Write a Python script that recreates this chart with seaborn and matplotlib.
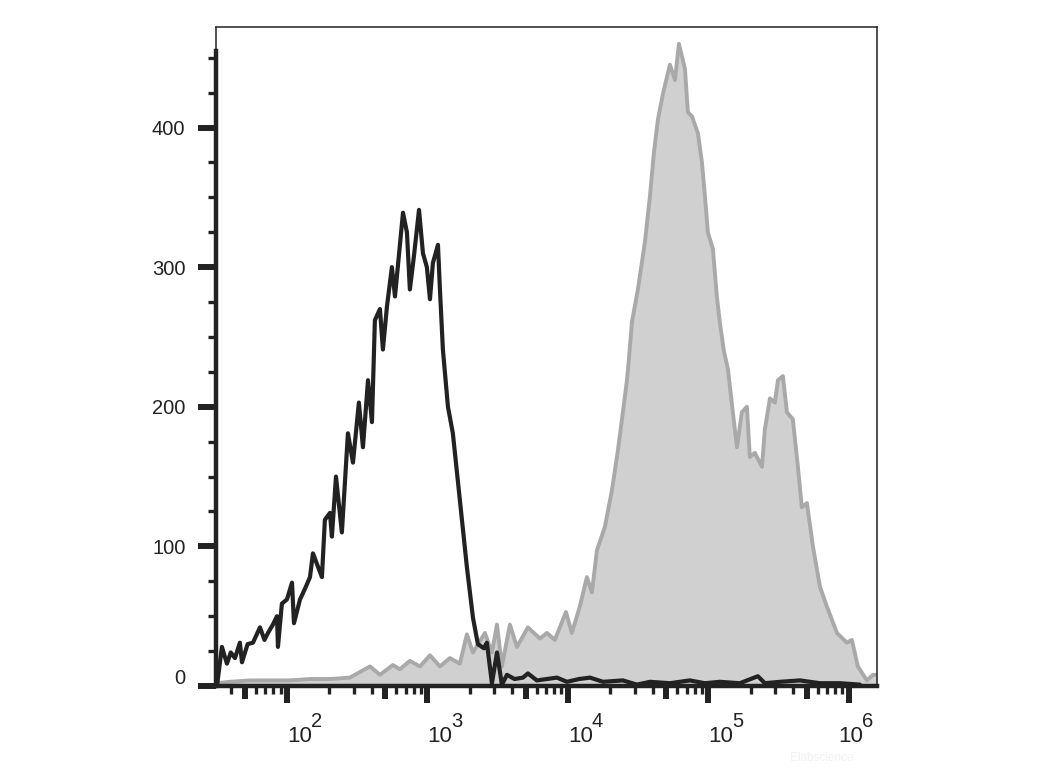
import numpy as np
import pandas as pd
import matplotlib
matplotlib.use("Agg")
import matplotlib.pyplot as plt
import matplotlib.transforms as mtransforms
import seaborn as sns
from matplotlib.ticker import FixedLocator, NullFormatter

# ---- data (log10 fluorescence intensity, event count) ----
iso_log10 = [1.502, 1.537, 1.573, 1.600, 1.630, 1.665, 1.680, 1.720, 1.758, 1.808, 1.840, 1.865,
             1.900, 1.929, 1.936, 1.964, 2.000, 2.036, 2.050, 2.093, 2.130, 2.164, 2.185, 2.249,
             2.270, 2.306, 2.320, 2.349, 2.391, 2.434, 2.470, 2.512, 2.541, 2.577, 2.605, 2.626,
             2.662, 2.683, 2.712, 2.747, 2.769, 2.826, 2.854, 2.875, 2.904, 2.940, 2.968, 2.996,
             3.018, 3.039, 3.075, 3.089, 3.110, 3.146, 3.181, 3.231, 3.281, 3.324, 3.359, 3.402,
             3.423, 3.459, 3.495, 3.530, 3.566, 3.620, 3.680, 3.715, 3.779, 3.850, 3.922, 3.993,
             4.080, 4.157, 4.250, 4.391, 4.491, 4.584, 4.726, 4.868, 4.975, 5.082, 5.224, 5.352,
             5.402, 5.509, 5.651, 5.794, 5.936, 6.078]
iso_count = [0, 28, 16, 24, 20, 31, 17, 30, 31, 42, 33, 38,
             44, 50, 28, 59, 62, 74, 45, 62, 70, 78, 95, 78,
             119, 124, 107, 150, 110, 181, 160, 203, 171, 219, 189, 262,
             270, 241, 272, 300, 279, 339, 325, 284, 308, 341, 310, 300,
             277, 303, 316, 284, 241, 200, 181, 133, 85, 49, 30, 27,
             31, 2, 24, 1, 8, 5, 6, 9, 4, 5, 6, 3,
             5, 6, 3, 4, 1, 3, 2, 4, 2, 3, 2, 7,
             2, 3, 4, 2, 2, 1]

stain_log10 = [1.495, 1.594, 1.737, 1.879, 2.021, 2.164, 2.306, 2.448, 2.555, 2.591, 2.662, 2.754,
               2.804, 2.875, 2.947, 3.018, 3.089, 3.160, 3.231, 3.281, 3.324, 3.409, 3.459, 3.495,
               3.530, 3.587, 3.637, 3.715, 3.801, 3.851, 3.907, 3.986, 4.028, 4.085, 4.135, 4.171,
               4.206, 4.263, 4.313, 4.356, 4.391, 4.420, 4.434, 4.456, 4.498, 4.548, 4.584, 4.612,
               4.641, 4.676, 4.726, 4.762, 4.790, 4.833, 4.854, 4.883, 4.925, 4.954, 4.975, 4.996,
               5.032, 5.060, 5.082, 5.110, 5.139, 5.174, 5.203, 5.238, 5.274, 5.295, 5.331, 5.381,
               5.402, 5.438, 5.473, 5.495, 5.530, 5.559, 5.601, 5.637, 5.665, 5.701, 5.744, 5.794,
               5.843, 5.915, 5.986, 6.021, 6.064, 6.128, 6.171, 6.199]
stain_count = [2, 3, 4, 4, 4, 5, 5, 6, 12, 14, 8, 15,
               12, 18, 14, 22, 14, 20, 16, 37, 24, 38, 24, 44,
               14, 44, 28, 42, 34, 38, 33, 53, 38, 57, 78, 67,
               97, 114, 140, 169, 196, 219, 234, 261, 284, 318, 351, 382,
               406, 424, 445, 434, 460, 442, 411, 408, 396, 375, 351, 325,
               313, 279, 260, 240, 227, 196, 171, 196, 200, 164, 167, 157,
               184, 206, 203, 219, 222, 196, 191, 157, 128, 131, 100, 71,
               57, 38, 31, 33, 14, 4, 8, 8]

y_ticks = [0, 100, 200, 300, 400]
x_decades = [2, 3, 4, 5, 6]

iso = pd.DataFrame({"x": 10.0 ** np.array(iso_log10), "y": iso_count})
stain = pd.DataFrame({"x": 10.0 ** np.array(stain_log10), "y": stain_count})

# ---- style ----
sns.set_style("ticks")
plt.rcParams["font.family"] = ["Liberation Sans", "DejaVu Sans"]

INK = "#222222"
fig = plt.figure(figsize=(10.4, 7.8), dpi=100)
ax = fig.add_axes([216 / 1040, 1 - 686 / 780, (877 - 216) / 1040, (686 - 27) / 780])

ax.set_xscale("log")
ax.fill_between(stain["x"], 0, stain["y"], color="#d0d0d0", lw=0, zorder=1)
sns.lineplot(data=stain, x="x", y="y", sort=False, estimator=None, color="#a9a9a9",
             lw=2.8, ax=ax, zorder=2)
sns.lineplot(data=iso, x="x", y="y", sort=False, estimator=None, color=INK,
             lw=3.0, ax=ax, zorder=3)

xmin, xmax = 10 ** 1.495, 10 ** 6.2
ax.set_xlim(xmin, xmax)
ax.set_ylim(0, 472)
ax.set_xlabel("")
ax.set_ylabel("")

# spines
for s in ["top", "right"]:
    ax.spines[s].set_linewidth(1.1)
    ax.spines[s].set_color(INK)
ax.spines["left"].set_linewidth(3.2)
ax.spines["left"].set_color(INK)
ax.spines["left"].set_bounds(0, 455)
ax.spines["bottom"].set_linewidth(3.2)
ax.spines["bottom"].set_color(INK)
ax.axvline(xmin, ymin=455 / 472, ymax=1, color=INK, lw=1.1, zorder=5, clip_on=False)

# y ticks
ax.yaxis.set_major_locator(FixedLocator(y_ticks))
ax.yaxis.set_minor_locator(FixedLocator([v for v in range(0, 460, 25) if v % 100 != 0]))
ax.tick_params(axis="y", which="major", length=13, width=4.3, color=INK,
               labelsize=14.5, pad=9, labelcolor=INK)
ax.tick_params(axis="y", which="minor", length=5.5, width=2.4, color=INK)
ax.set_yticklabels([str(v) for v in y_ticks])
zero_lab = ax.get_yticklabels()[0]
zero_lab.set_transform(zero_lab.get_transform() +
                       mtransforms.ScaledTranslation(0, 9 / 100, fig.dpi_scale_trans))

# x ticks: decades (long), 5x (medium), others (short)
major_pos = [10.0 ** d for d in x_decades] + [5 * 10.0 ** d for d in [1, 2, 3, 4, 5]]
ax.xaxis.set_major_locator(FixedLocator(major_pos))
ax.xaxis.set_major_formatter(NullFormatter())
minor_pos = [m * 10.0 ** d for d in [1, 2, 3, 4, 5] for m in [2, 3, 4, 6, 7, 8, 9]]
minor_pos = [p for p in minor_pos if xmin <= p <= xmax]
ax.xaxis.set_minor_locator(FixedLocator(minor_pos))
ax.xaxis.set_minor_formatter(NullFormatter())
ax.tick_params(axis="x", which="major", length=12, width=4.3, color=INK)
ax.tick_params(axis="x", which="minor", length=5.5, width=2.4, color=INK)
for t in ax.xaxis.get_major_ticks()[len(x_decades):]:
    t.tick1line.set_markersize(9.5)

# x tick labels: "10" with a large superscript exponent
base_tr = ax.get_xaxis_transform()
h = 659.0
for d in x_decades:
    shift = -11 if d == x_decades[-1] else 0
    tr_base = mtransforms.offset_copy(base_tr, fig=fig, x=shift, y=0, units="dots")
    tr_exp = mtransforms.offset_copy(base_tr, fig=fig, x=shift + 24, y=0, units="dots")
    ax.text(10.0 ** d, -56 / h, "10", transform=tr_base, ha="left", va="baseline",
            fontsize=16, color=INK, clip_on=False)
    ax.text(10.0 ** d, -41 / h, str(d), transform=tr_exp, ha="left", va="baseline",
            fontsize=14.5, color=INK, clip_on=False)

fig.text(822 / 1040, 1 - 758 / 780, "Elabscience", color="#f2f2f2", fontsize=8.5,
         ha="center", va="center")

fig.savefig("out.png", dpi=100, facecolor="white")
